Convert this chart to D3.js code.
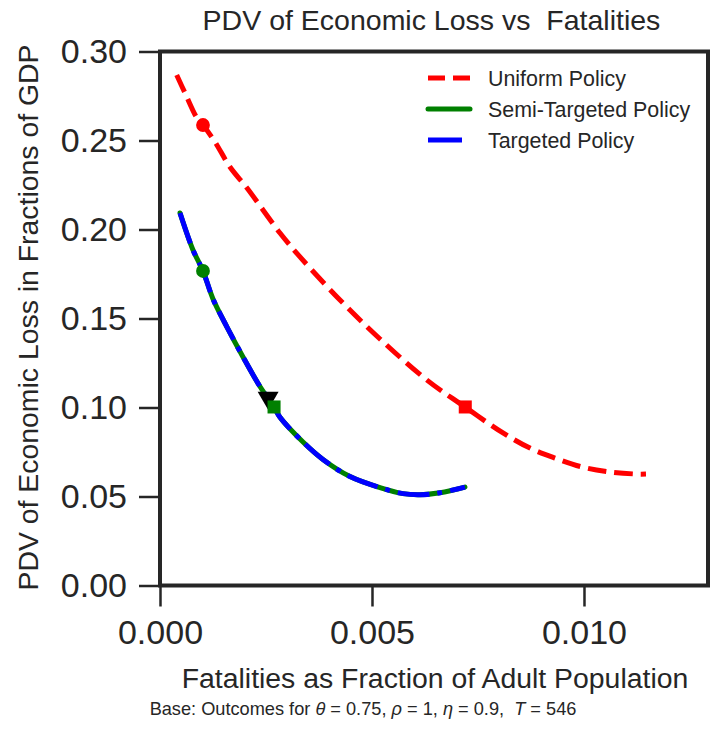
<!DOCTYPE html>
<html>
<head>
<meta charset="utf-8">
<script src="https://cdn.jsdelivr.net/npm/d3@7"></script>
<style>
  body { margin: 0; background: #fff; }
  text { font-family: "Liberation Sans", Arial, sans-serif; fill: #262626; white-space: pre; }
</style>
</head>
<body>
<svg id="chart"></svg>
<script>
// fatalities (fraction of adult population) vs PDV of loss (fraction of GDP)
const uniformFat  = [0.000394, 0.000590, 0.000873, 0.001014, 0.001297, 0.001651, 0.002052, 0.002429, 0.002830,
                     0.003302, 0.004245, 0.005189, 0.006297, 0.007193, 0.008090, 0.008726, 0.009316, 0.009953,
                     0.010613, 0.011250, 0.011462];
const uniformLoss = [0.2868, 0.2767, 0.2626, 0.2587, 0.2492, 0.2351, 0.2233, 0.2110, 0.1980,
                     0.1846, 0.1604, 0.1385, 0.1154, 0.1003, 0.0857, 0.0772, 0.0716, 0.0666,
                     0.0638, 0.0626, 0.0626];

const targetedFat  = [0.000472, 0.000778, 0.001014, 0.001250, 0.001580, 0.001958, 0.002358, 0.002689, 0.002830,
                      0.003373, 0.003844, 0.004481, 0.005189, 0.005731, 0.006132, 0.006604, 0.007193];
const targetedLoss = [0.2093, 0.1885, 0.1767, 0.1610, 0.1452, 0.1284, 0.1118, 0.1003, 0.0945,
                      0.0806, 0.0708, 0.0612, 0.0550, 0.0516, 0.0510, 0.0521, 0.0553];

// semi-targeted overlaps targeted
const semiFat  = targetedFat;
const semiLoss = targetedLoss;

const seriesNames = ['Uniform Policy', 'Semi-Targeted Policy', 'Targeted Policy'];

// highlighted points
const markerFat    = [0.001014, 0.007200, 0.001014, 0.002550, 0.002690];
const markerLoss   = [0.2587, 0.1003, 0.1767, 0.1055, 0.1003];
const markerShape  = ['circle', 'square', 'circle', 'triangle', 'square'];
const markerColor  = ['red', 'red', 'green', 'black', 'green'];

const xTicks = [0, 0.005, 0.010];
const yTicks = [0, 0.05, 0.10, 0.15, 0.20, 0.25, 0.30];

const W = 714, H = 729;
const M = { left: 160, right: 6, top: 51.5, bottom: 143.5 };
const iw = W - M.left - M.right, ih = H - M.top - M.bottom;

const svg = d3.select('#chart').attr('width', W).attr('height', H);
const g = svg.append('g').attr('transform', `translate(${M.left},${M.top})`);

const x = d3.scaleLinear().domain([0, 0.012925]).range([0, iw]);
const y = d3.scaleLinear().domain([0, 0.30]).range([ih, 0]);

const line = d3.line().x(d => x(d[0])).y(d => y(d[1])).curve(d3.curveCatmullRom.alpha(0.5));
const zip = (a, b) => a.map((v, i) => [v, b[i]]);

// axes
const xAxis = g.append('g').attr('transform', `translate(0,${ih})`)
  .call(d3.axisBottom(x).tickValues(xTicks).tickFormat(d3.format('.3f')).tickSize(21).tickPadding(13).tickSizeOuter(0));
const yAxis = g.append('g')
  .call(d3.axisLeft(y).tickValues(yTicks).tickFormat(d3.format('.2f')).tickSize(21).tickPadding(12).tickSizeOuter(0));
[xAxis, yAxis].forEach(a => {
  a.select('.domain').remove();
  a.selectAll('line').attr('stroke', '#262626').attr('stroke-width', 2.5);
  a.selectAll('text').attr('font-size', 34).attr('fill', '#262626')
    .attr('font-family', '"Liberation Sans", Arial, sans-serif');
});

// lines
g.append('path').datum(zip(uniformFat, uniformLoss)).attr('d', line)
  .attr('fill', 'none').attr('stroke', 'red').attr('stroke-width', 5).attr('stroke-dasharray', '18.5 8');
g.append('path').datum(zip(semiFat, semiLoss)).attr('d', line)
  .attr('fill', 'none').attr('stroke', 'green').attr('stroke-width', 5).attr('stroke-linecap', 'round');
g.append('path').datum(zip(targetedFat, targetedLoss)).attr('d', line)
  .attr('fill', 'none').attr('stroke', 'blue').attr('stroke-width', 5).attr('stroke-dasharray', '32 8 5 8');

// markers
const sym = { circle: d3.symbolCircle, square: d3.symbolSquare, triangle: d3.symbolTriangle };
const symSize = { circle: 150, square: 170, triangle: 190 };
g.selectAll('.mk').data(markerFat.map((v, i) => i)).enter().append('path')
  .attr('class', 'mk')
  .attr('d', i => d3.symbol().type(sym[markerShape[i]]).size(symSize[markerShape[i]])())
  .attr('transform', i => `translate(${x(markerFat[i])},${y(markerLoss[i])})` + (markerShape[i] === 'triangle' ? ' rotate(180)' : ''))
  .attr('fill', i => markerColor[i]);

// frame
g.append('rect').attr('width', iw).attr('height', ih)
  .attr('fill', 'none').attr('stroke', '#262626').attr('stroke-width', 4);

// legend
const legend = g.append('g').attr('transform', `translate(${428 - M.left},${78 - M.top})`);
const legStyle = [
  { stroke: 'red', dash: '17 8', cap: 'butt' },
  { stroke: 'green', dash: null, cap: 'round' },
  { stroke: 'blue', dash: '34 8', cap: 'butt' }
];
seriesNames.forEach((name, i) => {
  const row = legend.append('g').attr('transform', `translate(0,${i * 31})`);
  row.append('line').attr('x1', 0).attr('x2', 42).attr('y1', 0).attr('y2', 0)
    .attr('stroke', legStyle[i].stroke).attr('stroke-width', 5)
    .attr('stroke-dasharray', legStyle[i].dash).attr('stroke-linecap', legStyle[i].cap);
  row.append('text').attr('x', 60).attr('y', 7.5).attr('font-size', 21.4).text(name);
});

// titles
svg.append('text').attr('x', 431.5).attr('y', 30).attr('text-anchor', 'middle')
  .attr('font-size', 28.5).text('PDV of Economic Loss vs  Fatalities');
svg.append('text').attr('x', 435).attr('y', 688).attr('text-anchor', 'middle')
  .attr('font-size', 28.4).text('Fatalities as Fraction of Adult Population');
svg.append('text').attr('transform', `translate(38,${(45 + 590) / 2}) rotate(-90)`)
  .attr('text-anchor', 'middle').attr('font-size', 28.4).text('PDV of Economic Loss in Fractions of GDP');

const foot = svg.append('text').attr('x', 363).attr('y', 715).attr('text-anchor', 'middle').attr('font-size', 18.2);
[['Base: Outcomes for ', false], ['θ', true], [' = 0.75, ', false], ['ρ', true], [' = 1, ', false],
 ['η', true], [' = 0.9,  ', false], ['T', true], [' = 546', false]].forEach(([t, it]) => {
  foot.append('tspan').attr('font-style', it ? 'italic' : null).text(t);
});
</script>
</body>
</html>
